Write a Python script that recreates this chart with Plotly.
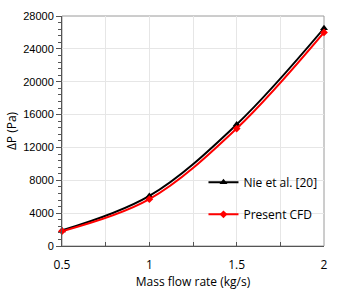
import plotly.graph_objects as go

flow = [0.5, 1.0, 1.5, 2.0]
nie = [1900, 6100, 14800, 26500]
cfd = [1800, 5700, 14300, 26000]
y_ticks = [0, 4000, 8000, 12000, 16000, 20000, 24000, 28000]
x_ticks = [0.5, 1, 1.5, 2]

fig = go.Figure()
fig.add_trace(go.Scatter(x=flow, y=nie, mode="lines+markers", name="Nie et al. [20]",
                         legendgroup="a", cliponaxis=False,
                         line=dict(color="black", width=2, shape="spline"),
                         marker=dict(symbol="triangle-up", size=7, color="black")))
fig.add_trace(go.Scatter(x=flow, y=cfd, mode="lines+markers", name="Present CFD",
                         legendgroup="b", cliponaxis=False,
                         line=dict(color="#ff0000", width=2, shape="spline"),
                         marker=dict(symbol="diamond", size=6, color="#ff0000")))

fig.update_layout(
    width=338, height=300,
    margin=dict(l=62, r=11, t=10, b=54),
    plot_bgcolor="white", paper_bgcolor="white",
    font=dict(family="Liberation Sans", size=11, color="black"),
    showlegend=True,
    legend=dict(x=0.54, y=0.34, xanchor="left", yanchor="top",
                bgcolor="rgba(0,0,0,0)", font=dict(family="Open Sans", size=12),
                tracegroupgap=13, itemwidth=30),
    xaxis=dict(range=[0.5, 2], tickvals=x_ticks, ticktext=["0.5", "1", "1.5", "2"],
               showgrid=True, gridcolor="#e6e6e6", gridwidth=1,
               minor=dict(dtick=0.25, showgrid=True, gridcolor="#e6e6e6", ticks="inside", ticklen=4, tickcolor="#555"),
               ticks="inside", ticklen=4, tickcolor="#555",
               showline=True, linecolor="#555", linewidth=1, mirror=False,
               zeroline=False, ticklabelstandoff=8,
               title=dict(text="Mass flow rate (kg/s)", font=dict(family="Open Sans", size=12), standoff=4),
               tickfont=dict(family="Open Sans", size=12)),
    yaxis=dict(range=[0, 28000], tickvals=y_ticks, ticktext=[str(v) for v in y_ticks],
               showgrid=True, gridcolor="#e6e6e6", gridwidth=1,
               minor=dict(dtick=800, ticks="outside", ticklen=3, tickcolor="#555", showgrid=False),
               ticks="outside", ticklen=5, tickcolor="#555",
               showline=True, linecolor="#555", linewidth=1,
               zeroline=False,
               title=dict(text="ΔP (Pa)", font=dict(family="Open Sans", size=12), standoff=4),
               tickfont=dict(family="Liberation Sans", size=11)),
)
fig.add_shape(type="rect", xref="paper", yref="paper", x0=0, y0=0, x1=1, y1=1,
              line=dict(color="#9a9a9a", width=1), layer="below")

fig.write_html("out.html")
